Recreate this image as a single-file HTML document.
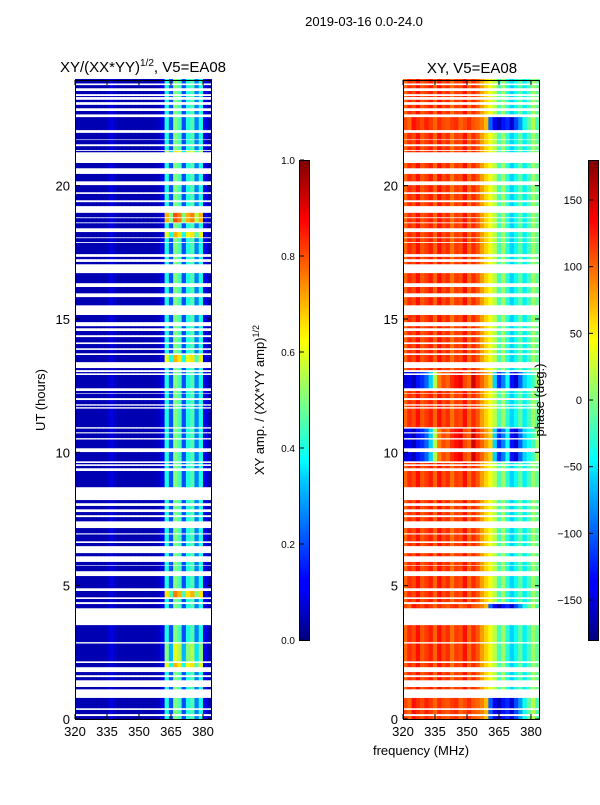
<!DOCTYPE html>
<html><head><meta charset="utf-8">
<style>
body{margin:0;background:#fff;font-family:"Liberation Sans","DejaVu Sans",sans-serif;}
svg text{font-family:"Liberation Sans","DejaVu Sans",sans-serif;fill:#000;}
</style></head>
<body>
<svg id="fig" width="600" height="800" viewBox="0 0 600 800" xmlns="http://www.w3.org/2000/svg">
<defs>
<linearGradient id="jet" x1="0" y1="1" x2="0" y2="0">
<stop offset="0" stop-color="#00007f"/><stop offset="0.11" stop-color="#0000ff"/><stop offset="0.125" stop-color="#0000ff"/>
<stop offset="0.34" stop-color="#00d0ff"/><stop offset="0.375" stop-color="#00ffff"/><stop offset="0.5" stop-color="#7fff7f"/>
<stop offset="0.625" stop-color="#ffff00"/><stop offset="0.66" stop-color="#ffe000"/><stop offset="0.875" stop-color="#ff0000"/><stop offset="1" stop-color="#7f0000"/>
</linearGradient>
</defs>
<text x="364" y="26" font-size="13" text-anchor="middle">2019-03-16 0.0-24.0</text>
<text x="143" y="72" font-size="15" text-anchor="middle">XY/(XX*YY)<tspan font-size="10" dy="-6">1/2</tspan><tspan dy="6">, V5=EA08</tspan></text>
<text x="472" y="73" font-size="15" text-anchor="middle">XY, V5=EA08</text>
<g id="left"></g>
<g id="right"></g>
<text transform="translate(45,400) rotate(-90)" font-size="13" text-anchor="middle">UT (hours)</text>
<text transform="translate(264,400) rotate(-90)" font-size="13" text-anchor="middle">XY amp. / (XX*YY amp)<tspan font-size="9" dy="-5">1/2</tspan></text>
<text transform="translate(544,400) rotate(-90)" font-size="13" text-anchor="middle">phase (deg.)</text>
<text x="421" y="755" font-size="13" text-anchor="middle">frequency (MHz)</text>
<rect x="299.5" y="160.5" width="10" height="480" fill="url(#jet)" stroke="#000" stroke-width="1"/>
<rect x="588.5" y="160.5" width="10" height="480" fill="url(#jet)" stroke="#000" stroke-width="1"/>
<g id="cb"></g>
</svg>
<script>
// ---- data ----
const gaps = [[0.11,0.19],[0.34,0.41],[0.79,1.12],[1.20,1.46],[1.57,1.65],[1.76,1.95],[2.10,2.17],[2.83,2.89],
[3.52,4.16],[4.31,4.39],[4.50,4.57],[4.80,4.91],[5.36,5.55],[5.74,5.77],[5.89,6.11],[6.22,6.49],[6.60,6.67],[6.92,6.97],
[7.16,7.42],[7.57,7.65],[7.76,7.87],[7.99,8.10],[8.21,8.70],[9.30,9.41],[9.49,9.56],[9.60,9.67],[10.01,10.16],[10.48,10.54],
[10.71,10.76],[10.89,10.95],[11.64,11.70],[11.75,11.81],[11.96,12.04],[12.19,12.22],[12.30,12.41],[12.90,12.97],[13.01,13.09],
[13.16,13.39],[13.65,13.72],[13.84,13.91],[14.06,14.13],[14.32,14.40],[14.55,14.66],[14.73,14.89],[15.15,15.52],[15.82,15.97],
[16.20,16.35],[16.72,17.06],[17.14,17.25],[17.33,17.44],[17.85,17.89],[18.03,18.07],[18.26,18.41],[18.59,18.63],[18.78,18.82],
[18.98,19.24],[19.38,19.46],[19.69,19.76],[20.02,20.17],[20.44,20.66],[20.85,21.26],[21.30,21.34],[21.48,21.56],[21.71,21.74],
[21.98,22.09],[22.57,22.68],[22.80,22.91],[23.03,23.14],[23.22,23.33],[23.36,23.44],[23.55,23.66],[23.77,23.84]];
const freqs = [320,322,324,326,328,330,332,334,336,338,340,342,344,346,348,350,352,354,356,358,360,362,364,366,368,370,372,374,376,378,380,382];
const ampProfile = [0.05,0.05,0.05,0.05,0.05,0.05,0.05,0.06,0.1,0.06,0.05,0.05,0.05,0.05,0.05,0.05,0.05,0.05,0.05,0.06,0.1,0.4,0.2,0.5,0.45,0.2,0.4,0.45,0.25,0.4,0.1,0.05];
const hotSpots = [[18.6,18.98,0.3],[18.1,18.26,0.2],[13.5,13.65,0.2],[4.6,4.8,0.25],[1.95,2.1,0.2],[2.4,2.8,0.1],[21.0,21.3,0.15]];
const phaseProfile = [100,120,110,130,105,115,125,100,130,110,120,95,115,110,130,100,120,105,80,60,40,20,-20,10,-30,-60,-40,-10,-50,-20,10,-10];
const phaseAltBlue = [-150,-140,-160,-130,-120,-100,-60,20,90,110,100,120,130,140,110,100,150,120,100,80,60,-60,-120,-90,-40,-130,-150,-100,-60,-40,-20,10];
const phaseAltRight = [110,100,130,120,110,125,115,100,120,110,105,115,120,100,110,120,105,100,90,70,-100,-140,-160,-130,-120,-150,-110,-80,-40,-10,20,-20];
const phaseSegments = [[9.6,10.8,'blue'],[12.4,13.0,'blue'],[0,0.79,'right'],[4.16,4.31,'right'],[22.0,22.5,'right']];
const ampTicks = [0.0,0.2,0.4,0.6,0.8,1.0];
const phaseTicks = [-150,-100,-50,0,50,100,150];
const xTicks = [320,335,350,365,380];
const yTicks = [0,5,10,15,20];

const NS='http://www.w3.org/2000/svg';
const y = h => 719 - h*26.667;
const xs = (x0) => f => x0 + (f-320)*2.133;
function jet(t){t=Math.max(0,Math.min(1,t));
 const c=v=>Math.round(255*Math.max(0,Math.min(1,v)));
 return `rgb(${c(1.5-Math.abs(4*t-3))},${c(1.5-Math.abs(4*t-2))},${c(1.5-Math.abs(4*t-1))})`;}
function el(tag,attrs,parent){const e=document.createElementNS(NS,tag);for(const k in attrs)e.setAttribute(k,attrs[k]);parent.appendChild(e);return e;}

// data segments = complement of gaps
const segs=[];let cur=0;
gaps.forEach(g=>{if(g[0]>cur)segs.push([cur,g[0]]);cur=Math.max(cur,g[1]);});
if(cur<24)segs.push([cur,24]);

function drawPanel(gid,x0,valFn){
 const g=document.getElementById(gid), X=xs(x0);
 segs.forEach(s=>{
  freqs.forEach((f,i)=>{
   const r=el('rect',{x:X(f),y:y(s[1]),width:X(f+2)-X(f)+0.4,height:y(s[0])-y(s[1])+0.2,fill:valFn(s,i)},g);
   
   
  });
 });
 const fr=el('rect',{x:x0+0.5,y:80.5,width:136,height:639,fill:'none',stroke:'#000','stroke-width':1},g);
 
 
 xTicks.forEach(t=>{const xx=X(t);
  el('line',{x1:xx,x2:xx,y1:719,y2:714,stroke:'#000'},g);el('line',{x1:xx,x2:xx,y1:80,y2:85,stroke:'#000'},g);
  const tx=el('text',{x:xx,y:736,'font-size':13,'text-anchor':'middle'},g);tx.textContent=t;
  
  });
 yTicks.forEach(t=>{const yy=y(t);
  el('line',{x1:x0,x2:x0+5,y1:yy,y2:yy,stroke:'#000'},g);el('line',{x1:x0+137,x2:x0+132,y1:yy,y2:yy,stroke:'#000'},g);
  const tx=el('text',{x:x0-5,y:yy+5,'font-size':13,'text-anchor':'end'},g);tx.textContent=t;
  
  });
}
drawPanel('left',75,(s,i)=>{let v=ampProfile[i];
 if(v>0.15)hotSpots.forEach(h=>{if(s[0]<h[1]&&s[1]>h[0])v+=h[2];});return jet(v);});
drawPanel('right',403,(s,i)=>{let p=phaseProfile;
 phaseSegments.forEach(ps=>{if(s[0]<ps[1]&&s[1]>ps[0])p=ps[2]==='blue'?phaseAltBlue:phaseAltRight;});
 return jet((p[i]+180)/360);});

const cb=document.getElementById('cb');
ampTicks.forEach(t=>{const yy=640-t*480;
 el('line',{x1:300,x2:304,y1:yy,y2:yy,stroke:'#000'},cb);
 const tx=el('text',{x:295,y:yy+4,'font-size':10,'text-anchor':'end'},cb);tx.textContent=t.toFixed(1);
 
 });
phaseTicks.forEach(t=>{const yy=640-(t+180)/360*480;
 el('line',{x1:589,x2:593,y1:yy,y2:yy,stroke:'#000'},cb);
 const tx=el('text',{x:582,y:yy+4,'font-size':11,'text-anchor':'end'},cb);tx.textContent=t<0?'\u2212'+(-t):t;
 
 });
</script>
</body></html>
